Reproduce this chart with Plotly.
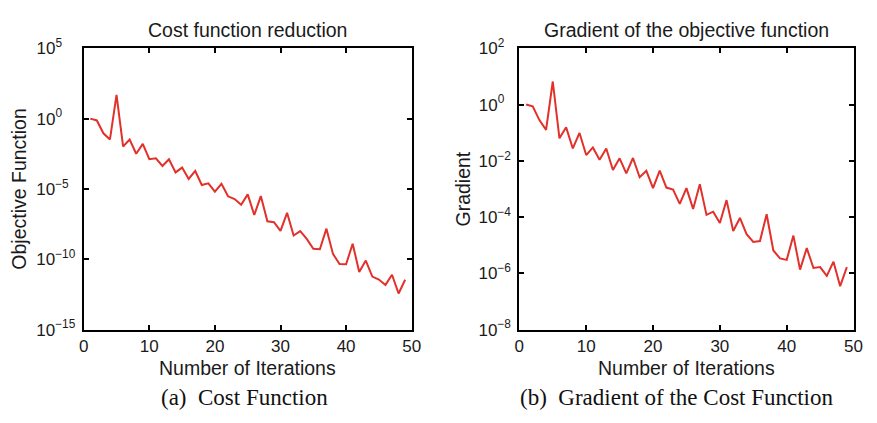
import plotly.graph_objects as go

iterations = list(range(1, 50))

cost_values = [1.0, 7.4e-1, 9.1e-2, 3.3e-2, 4.8e1, 1.05e-2, 3.3e-2, 3.2e-3, 1.6e-2, 1.3e-3,
               1.5e-3, 4.3e-4, 1.3e-3, 1.5e-4, 3.3e-4, 5.1e-5, 1.9e-4, 1.9e-5, 2.5e-5, 6.5e-6,
               2.3e-5, 3.0e-6, 1.9e-6, 7.4e-7, 4.1e-6, 1.4e-7, 3.1e-6, 5.0e-8, 4.3e-8, 1.05e-8,
               2.0e-7, 4.9e-9, 1.0e-8, 2.8e-9, 5.5e-10, 5.2e-10, 1.5e-8, 2.4e-10, 4.6e-11, 4.4e-11,
               1.26e-9, 1.26e-11, 8.1e-11, 5.9e-12, 3.6e-12, 1.5e-12, 7.9e-12, 3.7e-13, 3.5e-12]

grad_values = [1.0, 8.7e-1, 2.8e-1, 1.26e-1, 6.6, 6.3e-2, 1.55e-1, 2.75e-2, 9.8e-2, 1.6e-2,
               3.0e-2, 1.1e-2, 2.75e-2, 4.7e-3, 1.23e-2, 3.6e-3, 1.26e-2, 2.6e-3, 4.4e-3, 1.07e-3,
               4.5e-3, 1.12e-3, 9.5e-4, 2.95e-4, 1.07e-3, 1.95e-4, 1.48e-3, 1.2e-4, 1.55e-4, 6.2e-5,
               4.0e-4, 3.2e-5, 9.3e-5, 2.45e-5, 1.3e-5, 1.4e-5, 1.26e-4, 6.5e-6, 3.4e-6, 3.0e-6,
               2.2e-5, 1.35e-6, 7.9e-6, 1.55e-6, 1.66e-6, 8.1e-7, 2.6e-6, 3.5e-7, 1.66e-6]

x_ticks = [0, 10, 20, 30, 40, 50]
cost_ticks = [1e5, 1e0, 1e-5, 1e-10, 1e-15]
cost_exponents = ["5", "0", "−5", "−10", "−15"]
grad_ticks = [1e2, 1e0, 1e-2, 1e-4, 1e-6, 1e-8]
grad_exponents = ["2", "0", "−2", "−4", "−6", "−8"]

titles = ["Cost function reduction", "Gradient of the objective function"]
y_titles = ["Objective Function", "Gradient"]
x_title = "Number of Iterations"
captions = ["(a)  Cost Function", "(b)  Gradient of the Cost Function"]

W, H = 877, 423
RED = "#e2302a"
TXT = "#1a1a1a"
SANS = "Liberation Sans, Arial, sans-serif"
SERIF = "Liberation Serif, Times New Roman, serif"
FIG_SP = "\u2007"


def power_labels(exps):
    # left-align the "10" bases like MATLAB by padding short exponents with figure spaces
    width = max(len(e) for e in exps)
    return ["10<sup>" + e + FIG_SP * (width - len(e)) + "</sup>" for e in exps]


fig = go.Figure()
fig.add_trace(go.Scatter(x=iterations, y=cost_values, mode="lines",
                         line=dict(color=RED, width=2), xaxis="x", yaxis="y", showlegend=False))
fig.add_trace(go.Scatter(x=iterations, y=grad_values, mode="lines",
                         line=dict(color=RED, width=2), xaxis="x2", yaxis="y2", showlegend=False))

dom_x1 = [80 / W, 413.3 / W]
dom_x2 = [522.7 / W, 862.3 / W]
dom_y = [1 - 335 / H, 1 - 38.3 / H]

axis_common = dict(showgrid=False, zeroline=False, showline=True, linecolor="black", linewidth=2,
                   mirror="allticks", ticks="inside", ticklen=5, tickwidth=1.5, tickcolor="black",
                   tickfont=dict(family=SANS, size=17, color=TXT))

fig.update_layout(
    width=W, height=H, margin=dict(l=0, r=0, t=0, b=0),
    paper_bgcolor="white", plot_bgcolor="white",
    xaxis=dict(domain=dom_x1, range=[0, 50], tickvals=x_ticks, anchor="y", ticklabelstandoff=0,
               **axis_common),
    yaxis=dict(domain=dom_y, type="log", range=[-15, 5], tickvals=cost_ticks,
               ticktext=power_labels(cost_exponents), anchor="x", ticklabelstandoff=3, **axis_common),
    xaxis2=dict(domain=dom_x2, range=[0, 50], tickvals=x_ticks, anchor="y2", ticklabelstandoff=0,
                **axis_common),
    yaxis2=dict(domain=dom_y, type="log", range=[-8, 2], tickvals=grad_ticks,
                ticktext=power_labels(grad_exponents), anchor="x2", ticklabelstandoff=3, **axis_common),
)

ann = []
cx1 = (dom_x1[0] + dom_x1[1]) / 2
cx2 = (dom_x2[0] + dom_x2[1]) / 2
cy = (dom_y[0] + dom_y[1]) / 2
for cx, t in zip([cx1, cx2], titles):
    ann.append(dict(text=t, x=cx, y=1 - 19 / H, xref="paper", yref="paper", showarrow=False,
                    xanchor="center", yanchor="middle", font=dict(family=SANS, size=19.5, color=TXT)))
for cx in [cx1, cx2]:
    ann.append(dict(text=x_title, x=cx, y=1 - 376 / H, xref="paper", yref="paper", showarrow=False,
                    xanchor="center", yanchor="middle", font=dict(family=SANS, size=19.5, color=TXT)))
for cx, t in zip([243 / W, 683 / W], captions):
    ann.append(dict(text=t, x=cx, y=1 - 407 / H, xref="paper", yref="paper", showarrow=False,
                    xanchor="center", yanchor="middle", font=dict(family=SERIF, size=23, color="#111")))
for xx, t in zip([14 / W, 465 / W], y_titles):
    ann.append(dict(text=t, x=xx, y=cy, xref="paper", yref="paper", showarrow=False, textangle=-90,
                    xanchor="center", yanchor="middle", font=dict(family=SANS, size=19.5, color=TXT)))
fig.update_layout(annotations=ann)

fig.write_html("out.html")
